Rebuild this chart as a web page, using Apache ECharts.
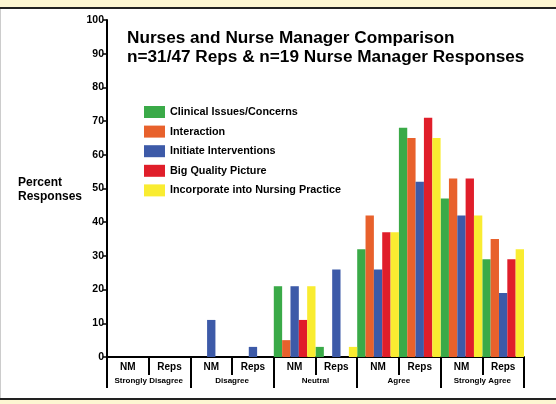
<!DOCTYPE html>
<html>
<head>
<meta charset="utf-8">
<script src="https://cdn.jsdelivr.net/npm/echarts@6/dist/echarts.min.js"></script>
<style>
  html, body { margin: 0; padding: 0; background: #fff; }
  #chart { width: 556px; height: 404px; }
</style>
</head>
<body>
<div id="chart"></div>
<script>
// sub categories along the axis, and the response groups below them
const subLabels = ["NM", "Reps", "NM", "Reps", "NM", "Reps", "NM", "Reps", "NM", "Reps"];
const groupLabels = ["Strongly Disagree", "Disagree", "Neutral", "Agree", "Strongly Agree"];

const clinical = [0, 0, 0, 0, 21, 3, 32, 68, 47, 29];
const interaction = [0, 0, 0, 0, 5, 0, 42, 65, 53, 35];
const initiate = [0, 0, 11, 3, 21, 26, 26, 52, 42, 19];
const bigPicture = [0, 0, 0, 0, 11, 0, 37, 71, 53, 29];
const incorporate = [0, 0, 0, 0, 21, 3, 37, 65, 42, 32];

const seriesNames = [
  "Clinical Issues/Concerns",
  "Interaction",
  "Initiate Interventions",
  "Big Quality Picture",
  "Incorporate into Nursing Practice"
];
const seriesData = [clinical, interaction, initiate, bigPicture, incorporate];
const colors = ["#3aaa48", "#e8612c", "#3d5aa8", "#e01e2a", "#f9ec31"];

const font = "Liberation Sans, Arial, sans-serif";
const chart = echarts.init(document.getElementById("chart"));

const option = {
  animation: false,
  color: colors,
  title: {
    text: "Nurses and Nurse Manager Comparison\nn=31/47 Reps & n=19 Nurse Manager Responses",
    left: 122,
    top: 24,
    textStyle: { fontFamily: font, fontWeight: "bold", fontSize: 17.2, color: "#000", lineHeight: 19 }
  },
  legend: {
    orient: "vertical",
    left: 139,
    top: 101,
    itemWidth: 21,
    itemHeight: 12,
    itemGap: 7.6,
    icon: "rect",
    textStyle: { fontFamily: font, fontWeight: "bold", fontSize: 10.8, color: "#000" },
    data: seriesNames
  },
  graphic: [
    { type: "rect", shape: { x: 0, y: 0, width: 556, height: 7 }, style: { fill: "#fdf6d2" } },
    { type: "rect", shape: { x: 0, y: 7, width: 556, height: 2 }, style: { fill: "#222" } },
    { type: "rect", shape: { x: 0, y: 398, width: 556, height: 2 }, style: { fill: "#222" } },
    { type: "rect", shape: { x: 0, y: 400, width: 556, height: 4 }, style: { fill: "#fdf6d2" } },
    { type: "rect", shape: { x: 0, y: 9, width: 1, height: 389 }, style: { fill: "#ccc" } },
    {
      type: "text",
      right: 474,
      top: 176,
      style: {
        text: "Percent\nResponses",
        align: "right",
        fontFamily: font,
        fontWeight: "bold",
        fontSize: 12,
        lineHeight: 14,
        fill: "#000"
      }
    }
  ],
  grid: { left: 107, right: 32, top: 20, bottom: 47 },
  xAxis: [
    {
      type: "category",
      data: subLabels,
      axisLine: { lineStyle: { color: "#000", width: 2 } },
      axisTick: { show: true, interval: 0, length: 18, lineStyle: { color: "#000", width: 2 } },
      axisLabel: { interval: 0, margin: 5, fontFamily: font, fontWeight: "bold", fontSize: 10, color: "#000" }
    },
    {
      type: "category",
      data: groupLabels,
      position: "bottom",
      offset: 18,
      axisLine: { show: false },
      axisTick: { show: true, interval: 0, length: 13, lineStyle: { color: "#000", width: 2 } },
      axisLabel: { interval: 0, hideOverlap: false, margin: 2, fontFamily: font, fontWeight: "bold", fontSize: 8, color: "#000" }
    }
  ],
  yAxis: {
    type: "value",
    min: 0,
    max: 100,
    interval: 10,
    splitLine: { show: false },
    axisLine: { show: true, lineStyle: { color: "#000", width: 2 } },
    axisTick: { show: true, length: 4, lineStyle: { color: "#000", width: 1.5 } },
    axisLabel: { margin: 3, fontFamily: font, fontWeight: "bold", fontSize: 10.5, color: "#000" }
  },
  series: seriesNames.map((name, i) => ({
    name: name,
    type: "bar",
    xAxisIndex: 0,
    data: seriesData[i],
    barGap: 0,
    barCategoryGap: 0
  }))
};

chart.setOption(option);
</script>
</body>
</html>
